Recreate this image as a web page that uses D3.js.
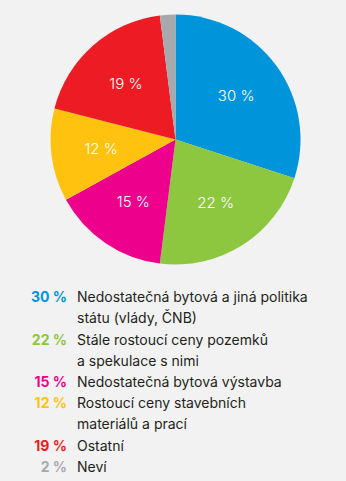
<!DOCTYPE html>
<html><head><meta charset="utf-8">
<script src="https://cdn.jsdelivr.net/npm/d3@7"></script>
<style>
html,body{margin:0;padding:0;background:#f2f2f2;}
svg{display:block;}
</style></head>
<body>
<script>
const categories = [
  ["Nedostatečná bytová a jiná politika", "státu (vlády, ČNB)"],
  ["Stále rostoucí ceny pozemků", "a spekulace s nimi"],
  ["Nedostatečná bytová výstavba"],
  ["Rostoucí ceny stavebních", "materiálů a prací"],
  ["Ostatní"],
  ["Neví"]
];
const values = [30, 22, 15, 12, 19, 2];
const colors = ["#0095da", "#8dc63f", "#ec008c", "#ffc20e", "#ed1c24", "#a7a9ac"];
const showSliceLabel = [true, true, true, true, true, false];

const W = 346, H = 481;
const svg = d3.select("body").append("svg").attr("width", W).attr("height", H);
const font = "Inter, 'Open Sans', sans-serif";

const cx = 175.5, cy = 139.5, r = 125;
const pie = d3.pie().sort(null).value(d => d)(values);
const arc = d3.arc().innerRadius(0).outerRadius(r);
const labelArc = d3.arc().innerRadius(r * 0.6).outerRadius(r * 0.6);

const g = svg.append("g").attr("transform", `translate(${cx},${cy})`);
g.selectAll("path").data(pie).join("path")
  .attr("d", arc).attr("fill", (d, i) => colors[i]);
g.selectAll("text").data(pie.filter((d, i) => showSliceLabel[i])).join("text")
  .attr("transform", d => `translate(${labelArc.centroid(d)})`)
  .attr("text-anchor", "middle").attr("dominant-baseline", "central")
  .attr("fill", "#fff").attr("font-family", font).attr("font-size", 15).attr("font-weight", 300)
  .text(d => d.value + " %");

// legend
const lineH = 21.2;
let y = 296.7;
const lg = svg.append("g");
categories.forEach((lines, i) => {
  lg.append("text").attr("x", 67).attr("y", y).attr("text-anchor", "end")
    .attr("dominant-baseline", "central")
    .attr("font-family", font).attr("font-size", 14).attr("font-weight", 700)
    .attr("fill", colors[i]).text(values[i] + " %");
  lines.forEach((t, j) => {
    lg.append("text").attr("x", 77).attr("y", y + j * lineH)
      .attr("dominant-baseline", "central")
      .attr("font-family", font).attr("font-size", 14).attr("font-weight", 400)
      .attr("fill", "#231f20").text(t);
  });
  y += lines.length * lineH;
});
</script>
</body></html>
